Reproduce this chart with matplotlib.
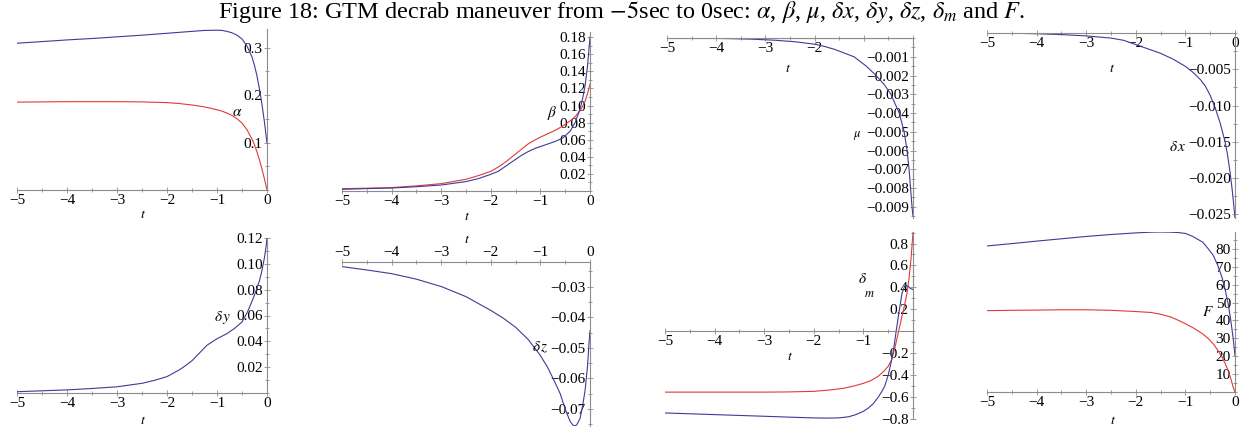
import matplotlib
matplotlib.use("Agg")
import matplotlib.pyplot as plt
from matplotlib.ticker import MultipleLocator, FixedLocator, FixedFormatter

plt.rcParams["font.family"] = ["Liberation Serif", "DejaVu Serif"]
plt.rcParams["mathtext.fontset"] = "stix"

W, H = 1246, 430
RED = "#e03a3a"
BLUE = "#3c3c98"
AXC = "#8c8c8c"

# ---- data -----------------------------------------------------------------
t_alpha = [-5, -4.5, -4, -3.5, -3, -2.5, -2, -1.75, -1.5, -1.25, -1.0, -0.9, -0.8, -0.7, -0.6,
           -0.5, -0.4, -0.3, -0.25, -0.2, -0.15, -0.1, -0.05, 0]
alpha_blue = [0.309, 0.3125, 0.316, 0.319, 0.3225, 0.326, 0.330, 0.332, 0.334, 0.336, 0.3365, 0.336,
              0.334, 0.331, 0.326, 0.318, 0.303, 0.280, 0.262, 0.240, 0.212, 0.180, 0.142, 0.099]
alpha_red = [0.185, 0.1855, 0.186, 0.186, 0.186, 0.1855, 0.184, 0.182, 0.179, 0.175, 0.169, 0.166,
             0.162, 0.157, 0.150, 0.141, 0.127, 0.107, 0.095, 0.080, 0.063, 0.044, 0.023, 0.0]

t_beta = [-5, -4.5, -4, -3.5, -3, -2.5, -2.25, -2, -1.85, -1.7, -1.55, -1.4, -1.25, -1.1, -1.0,
          -0.85, -0.7, -0.55, -0.4, -0.3, -0.2, -0.15, -0.1, -0.05, 0]
beta_red = [0.0027, 0.0033, 0.004, 0.006, 0.0086, 0.0137, 0.018, 0.023, 0.028, 0.034, 0.041, 0.048,
            0.055, 0.060, 0.063, 0.067, 0.071, 0.076, 0.082, 0.087, 0.094, 0.099, 0.105, 0.114, 0.125]
beta_blue = [0.002, 0.0028, 0.0035, 0.005, 0.007, 0.011, 0.0145, 0.0195, 0.023, 0.029, 0.035, 0.041,
             0.046, 0.050, 0.052, 0.055, 0.058, 0.062, 0.070, 0.080, 0.096, 0.108, 0.123, 0.146, 0.180]

t_mu = [-5, -4.4, -3.8, -3.3, -2.8, -2.4, -2, -1.8, -1.6, -1.4, -1.2, -0.95, -0.75, -0.58, -0.45,
        -0.28, -0.18, -0.12, -0.08, -0.05, -0.02, 0]
mu_blue = [0, -0.00001, -0.00003, -0.00006, -0.00012, -0.0002, -0.00033, -0.00045, -0.0006, -0.0008,
           -0.001, -0.0015, -0.002, -0.0025, -0.003, -0.004, -0.005, -0.006, -0.007, -0.008, -0.009, -0.0095]
mu_red = [0] * len(t_mu)

t_dx = [-5, -4.5, -4, -3.5, -3, -2.5, -2.25, -2, -1.75, -1.5, -1.25, -1, -0.85, -0.7, -0.6, -0.5,
        -0.4, -0.3, -0.25, -0.2, -0.15, -0.1, -0.06, -0.03, 0]
dx_blue = [0, -0.00004, -0.0001, -0.00022, -0.0004, -0.0007, -0.001, -0.0016, -0.0022, -0.0028,
           -0.0036, -0.0046, -0.0054, -0.0064, -0.0073, -0.0086, -0.0103, -0.0124, -0.0137, -0.0150,
           -0.0168, -0.0192, -0.0214, -0.0234, -0.0255]

t_dy = [-5, -4.5, -4, -3.5, -3, -2.5, -2.25, -2, -1.75, -1.6, -1.5, -1.35, -1.2, -1, -0.8, -0.65,
        -0.5, -0.4, -0.3, -0.22, -0.15, -0.1, -0.05, -0.02, 0]
dy_blue = [0.001, 0.0017, 0.0024, 0.0035, 0.0048, 0.0075, 0.0098, 0.0127, 0.018, 0.022, 0.025, 0.031,
           0.037, 0.042, 0.046, 0.050, 0.055, 0.062, 0.071, 0.079, 0.087, 0.095, 0.105, 0.113, 0.120]

t_dz = [-5, -4.5, -4, -3.5, -3, -2.5, -2, -1.75, -1.5, -1.25, -1, -0.85, -0.7, -0.6, -0.5, -0.4,
        -0.33, -0.27, -0.2, -0.15, -0.1, -0.05, -0.02, 0]
dz_blue = [-0.0235, -0.0246, -0.0258, -0.0276, -0.0300, -0.0333, -0.0378, -0.0403, -0.0433, -0.0472,
           -0.0525, -0.0565, -0.0615, -0.0650, -0.0700, -0.0740, -0.0755, -0.0752, -0.0730, -0.0690,
           -0.0640, -0.0560, -0.0485, -0.0445]

t_dm_red = [-5, -4, -3, -2.5, -2, -1.67, -1.4, -1.2, -1.0, -0.85, -0.7, -0.6, -0.5, -0.43, -0.36,
            -0.29, -0.22, -0.16, -0.12, -0.08, -0.04, 0]
dm_red = [-0.555, -0.555, -0.555, -0.553, -0.548, -0.535, -0.52, -0.50, -0.475, -0.45, -0.41, -0.37,
          -0.32, -0.26, -0.14, 0.0, 0.14, 0.26, 0.35, 0.48, 0.66, 0.90]
t_dm_blue = [-5, -4, -3, -2.5, -2, -1.75, -1.5, -1.3, -1.15, -1.0, -0.9, -0.8, -0.7, -0.63, -0.57,
             -0.5, -0.43, -0.38, -0.34, -0.28, -0.22, -0.16, -0.1, -0.05, 0]
dm_blue = [-0.745, -0.76, -0.775, -0.783, -0.79, -0.792, -0.79, -0.78, -0.76, -0.73, -0.70, -0.66,
           -0.60, -0.55, -0.50, -0.40, -0.26, -0.13, 0.0, 0.18, 0.35, 0.42, 0.41, 0.39, 0.38]

t_F = [-5, -4.5, -4, -3.5, -3, -2.5, -2, -1.7, -1.5, -1.3, -1.15, -1, -0.85, -0.65, -0.55, -0.44,
       -0.35, -0.26, -0.2, -0.14, -0.09, -0.04, 0]
F_blue = [81.7, 83.0, 84.4, 85.7, 87.0, 88.1, 89.0, 89.4, 89.5, 89.4, 89.2, 88.7, 87.0, 83.8, 80.5,
          76.5, 71.0, 64.0, 57.5, 49.7, 41.0, 30.7, 20.5]
F_red = [45.5, 45.7, 45.8, 46.0, 46.0, 45.7, 45.0, 44.5, 43.5, 42.0, 40.2, 38.2, 36.0, 32.5, 30.2,
         27.0, 23.5, 19.5, 16.0, 12.0, 8.0, 3.0, 0.0]

x_ticks = [-5, -4, -3, -2, -1, 0]

fig = plt.figure(figsize=(W / 100, H / 100), dpi=100)


def px_axes(x0, x1, ytop, ybot):
    return fig.add_axes([x0 / W, 1 - ybot / H, (x1 - x0) / W, (ybot - ytop) / H])


def px_text(x, y, s, size=10, **kw):
    fig.text(x / W, 1 - y / H, s, ha="center", va="center", fontsize=size, **kw)


def num(v, fmt):
    return fmt.format(v).replace("-", "\u2212")


def maple_axes(ax, ylim, yticks, yfmt, ymin, xshown=x_ticks, top=False):
    """Maple-like axes: y axis at t=0 (right edge), x axis at y=0 or along the top."""
    ax.set_xlim(-5, 0)
    ax.set_ylim(*ylim)
    ax.patch.set_alpha(0)
    ax.spines["right"].set_visible(False)
    ax.spines["left"].set_position(("data", 0))
    if top:
        ax.spines["bottom"].set_visible(False)
        ax.xaxis.set_ticks_position("top")
    else:
        ax.spines["top"].set_visible(False)
        ax.spines["bottom"].set_position(("data", max(ylim[0], min(0, ylim[1]))))
    for s in ax.spines.values():
        s.set_color(AXC)
        s.set_linewidth(0.8)

    ax.xaxis.set_major_locator(FixedLocator(x_ticks))
    ax.xaxis.set_major_formatter(FixedFormatter(
        [num(v, "{:d}") if v in xshown else "" for v in x_ticks]))
    ax.xaxis.set_minor_locator(MultipleLocator(0.5))

    ax.yaxis.set_major_locator(FixedLocator(yticks))
    ax.yaxis.set_major_formatter(FixedFormatter([num(v, yfmt) for v in yticks]))
    ax.yaxis.set_minor_locator(MultipleLocator(ymin))

    ax.tick_params(which="both", direction="inout", color=AXC, width=0.6,
                   labelsize=11, pad=1.0)
    ax.tick_params(which="major", length=4)
    ax.tick_params(which="minor", length=2.5)
    if top:
        ax.tick_params(axis="x", pad=0.0)


# ---- alpha ------------------------------------------------------------------
ax = px_axes(17, 267, 29, 190)
ax.plot(t_alpha, alpha_blue, color=BLUE, lw=0.8)
ax.plot(t_alpha, alpha_red, color=RED, lw=0.8)
maple_axes(ax, (0, 0.339), [0.1, 0.2, 0.3], "{:.1f}", 0.05)
px_text(237, 113, r"$\alpha$", 11)
px_text(143, 215, r"$t$", 10)

# ---- beta -------------------------------------------------------------------
ax = px_axes(342, 590, 32, 191)
ax.plot(t_beta, beta_red, color=RED, lw=0.8)
ax.plot(t_beta, beta_blue, color=BLUE, lw=0.8)
maple_axes(ax, (0, 0.186), [0.02, 0.04, 0.06, 0.08, 0.10, 0.12, 0.14, 0.16, 0.18], "{:.2f}", 0.01)
px_text(552, 113, r"$\beta$", 11)
px_text(467, 217, r"$t$", 10)

# ---- mu ---------------------------------------------------------------------
ax = px_axes(667, 913, 38, 218)
ax.plot(t_mu, mu_red, color=RED, lw=0.8)
ax.plot(t_mu, mu_blue, color=BLUE, lw=0.8)
maple_axes(ax, (-0.0096, 0), [-0.001 * k for k in range(1, 10)], "{:.3f}", 0.0005,
           xshown=[-5, -4, -3, -2])
px_text(857, 135, r"$\mu$", 9)
px_text(788, 68, r"$t$", 10)

# ---- delta x ----------------------------------------------------------------
ax = px_axes(987, 1235, 33, 218)
ax.plot(t_dx, dx_blue, color=BLUE, lw=0.8)
maple_axes(ax, (-0.0255, 0), [-0.005, -0.010, -0.015, -0.020, -0.025], "{:.3f}", 0.0025)
px_text(1178, 147, r"$\delta\,x$", 11)
px_text(1112, 68, r"$t$", 10)

# ---- delta y ----------------------------------------------------------------
ax = px_axes(17, 267, 238, 393)
ax.plot(t_dy, dy_blue, color=BLUE, lw=0.8)
maple_axes(ax, (0, 0.12), [0.02, 0.04, 0.06, 0.08, 0.10, 0.12], "{:.2f}", 0.01)
px_text(223, 317, r"$\delta\,y$", 11)
px_text(143, 421, r"$t$", 10)

# ---- delta z ----------------------------------------------------------------
ax = px_axes(342, 590, 262, 426)
ax.plot(t_dz, dz_blue, color=BLUE, lw=0.8)
maple_axes(ax, (-0.0755, -0.022), [-0.03, -0.04, -0.05, -0.06, -0.07], "{:.2f}", 0.005, top=True)
px_text(540, 347, r"$\delta\,z$", 11)
px_text(467, 239, r"$t$", 10)

# ---- delta m ----------------------------------------------------------------
ax = px_axes(665, 913, 232, 419)
ax.plot(t_dm_red, dm_red, color=RED, lw=0.8)
ax.plot(t_dm_blue, dm_blue, color=BLUE, lw=0.8)
maple_axes(ax, (-0.80, 0.905), [-0.8, -0.6, -0.4, -0.2, 0.2, 0.4, 0.6, 0.8], "{:.1f}", 0.1,
           xshown=[-5, -4, -3, -2, -1])
px_text(863, 279, r"$\delta$", 11)
px_text(869, 294, r"$m$", 9)
px_text(790, 357, r"$t$", 10)

# ---- F ----------------------------------------------------------------------
ax = px_axes(987, 1235, 232, 392)
ax.plot(t_F, F_blue, color=BLUE, lw=0.8)
ax.plot(t_F, F_red, color=RED, lw=0.8)
maple_axes(ax, (0, 89.5), [10, 20, 30, 40, 50, 60, 70, 80], "{:.0f}", 5)
px_text(1208, 312, r"$F$", 11)
px_text(1113, 420, r"$t$", 10)

px_text(622, 12,
        r"Figure 18: GTM decrab maneuver from $-5$sec to 0sec: $\alpha$, $\beta$, $\mu$, "
        r"$\delta x$, $\delta y$, $\delta z$, $\delta_m$ and $F$.", 17.5)

fig.savefig("out.png", dpi=100)
